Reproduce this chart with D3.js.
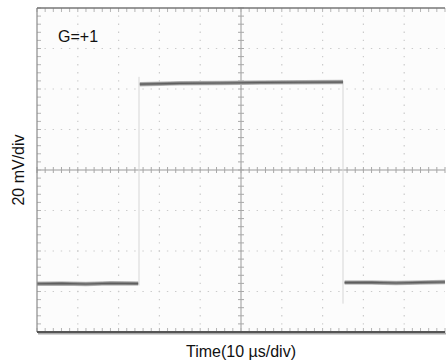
<!DOCTYPE html>
<html>
<head>
<meta charset="utf-8">
<script src="https://cdn.jsdelivr.net/npm/d3@7"></script>
<style>
body { margin: 0; background: #fff; }
text { font-family: "Liberation Sans", Arial, sans-serif; fill: #111; }
</style>
</head>
<body>
<div id="scope"></div>
<script>
// scope screen: 10 div x 8 div, 10 us/div, 20 mV/div
var svgWidth = 446;
var svgHeight = 363;

var margin = { top: 8, right: 1, bottom: 31, left: 37 };
var width = svgWidth - margin.left - margin.right;
var height = svgHeight - margin.top - margin.bottom;

// time axis in us, voltage in mV
var timeDomain = [0, 100];
var voltDomain = [-80, 80];
var timeDivs = d3.range(0, 101, 10);
var voltDivs = d3.range(-80, 81, 20);

// trace (segments: low, high, low)
var lowLeftT = [0, 6, 12, 18, 24.8];
var lowLeftV = [-56.2, -56.0, -56.3, -55.9, -56.1];
var highT = [25.2, 35, 45, 55, 65, 75];
var highV = [42.4, 42.8, 43.0, 43.2, 43.3, 43.4];
var lowRightT = [75.4, 82, 88, 94, 100];
var lowRightV = [-55.6, -55.5, -55.8, -55.5, -55.3];

// faint edge lines
var edgeT = [25, 75];
var edgeFrom = [-57, 44];
var edgeTo = [46, -66];

var gainLabel = "G=+1";
var xLabel = "Time(10 µs/div)";
var yLabel = "20 mV/div";

var svg = d3.select("#scope")
  .append("svg")
  .attr("width", svgWidth)
  .attr("height", svgHeight);

var chartGroup = svg.append("g")
  .attr("transform", `translate(${margin.left}, ${margin.top})`);

var x = d3.scaleLinear().domain(timeDomain).range([0, width]);
var y = d3.scaleLinear().domain(voltDomain).range([height, 0]);

chartGroup.append("rect")
  .attr("width", width)
  .attr("height", height)
  .attr("fill", "#fcfcfc");

// minor positions (1/5 div)
var minorT = d3.range(0, 100.01, 2);
var minorV = d3.range(-80, 80.01, 4);

// dotted grid lines
var dotX = (x(2) - x(0));
var dotY = (y(-4) - y(0));
chartGroup.selectAll(".vgrid")
  .data(timeDivs.filter(d => d !== 50 && d !== 0 && d !== 100))
  .enter().append("line")
  .attr("x1", d => x(d)).attr("x2", d => x(d))
  .attr("y1", 0).attr("y2", height)
  .attr("stroke", "#cbcbcb")
  .attr("stroke-width", 1.2)
  .attr("stroke-dasharray", `1.4,${dotY - 1.4}`)
  .attr("stroke-dashoffset", 0.7);

chartGroup.selectAll(".hgrid")
  .data(voltDivs.filter(d => d !== 0 && d !== -80 && d !== 80))
  .enter().append("line")
  .attr("y1", d => y(d)).attr("y2", d => y(d))
  .attr("x1", 0).attr("x2", width)
  .attr("stroke", "#cbcbcb")
  .attr("stroke-width", 1.2)
  .attr("stroke-dasharray", `1.4,${dotX - 1.4}`)
  .attr("stroke-dashoffset", 0.7);

// centre crosshair
chartGroup.append("line")
  .attr("x1", 0).attr("x2", width)
  .attr("y1", y(0)).attr("y2", y(0))
  .attr("stroke", "#9a9a9a").attr("stroke-width", 1);
chartGroup.append("line")
  .attr("x1", x(50)).attr("x2", x(50))
  .attr("y1", 0).attr("y2", height)
  .attr("stroke", "#9a9a9a").attr("stroke-width", 1);

chartGroup.selectAll(".hticks")
  .data(minorT)
  .enter().append("line")
  .attr("x1", d => x(d)).attr("x2", d => x(d))
  .attr("y1", y(0) - 3).attr("y2", y(0) + 3)
  .attr("stroke", "#a8a8a8");
chartGroup.selectAll(".vticks")
  .data(minorV)
  .enter().append("line")
  .attr("y1", d => y(d)).attr("y2", d => y(d))
  .attr("x1", x(50) - 3).attr("x2", x(50) + 3)
  .attr("stroke", "#a8a8a8");

// border ticks
chartGroup.selectAll(".topticks")
  .data(minorT)
  .enter().append("line")
  .attr("x1", d => x(d)).attr("x2", d => x(d))
  .attr("y1", 0).attr("y2", 4)
  .attr("stroke", "#b5b5b5");
chartGroup.selectAll(".botticks")
  .data(minorT)
  .enter().append("line")
  .attr("x1", d => x(d)).attr("x2", d => x(d))
  .attr("y1", height - 4).attr("y2", height)
  .attr("stroke", "#b5b5b5");
chartGroup.selectAll(".leftticks")
  .data(minorV)
  .enter().append("line")
  .attr("y1", d => y(d)).attr("y2", d => y(d))
  .attr("x1", 0).attr("x2", 4)
  .attr("stroke", "#b5b5b5");

// edge lines
chartGroup.selectAll(".edge")
  .data(edgeT)
  .enter().append("line")
  .attr("x1", d => x(d)).attr("x2", d => x(d))
  .attr("y1", (d, i) => y(edgeFrom[i]))
  .attr("y2", (d, i) => y(edgeTo[i]))
  .attr("stroke", "#d6d6d6")
  .attr("stroke-width", 1);

// trace
var segments = [
  d3.zip(lowLeftT, lowLeftV),
  d3.zip(highT, highV),
  d3.zip(lowRightT, lowRightV)
];
var line = d3.line().x(d => x(d[0])).y(d => y(d[1]));

[["#bdbdbd", 4.5], ["#868686", 3], ["#5e5e5e", 1.1]].forEach(function(s) {
  chartGroup.selectAll(null)
    .data(segments)
    .enter().append("path")
    .attr("d", line)
    .attr("fill", "none")
    .attr("stroke", s[0])
    .attr("stroke-width", s[1]);
});

// frame
chartGroup.append("line")
  .attr("x1", 0).attr("x2", 0).attr("y1", 0).attr("y2", height)
  .attr("stroke", "#8a8a8a").attr("stroke-width", 1.2);
chartGroup.append("line")
  .attr("x1", 0).attr("x2", width).attr("y1", 0).attr("y2", 0)
  .attr("stroke", "#777").attr("stroke-width", 1.5);
chartGroup.append("line")
  .attr("x1", 1).attr("x2", width + 1).attr("y1", height + 1.5).attr("y2", height + 1.5)
  .attr("stroke", "#aaa").attr("stroke-width", 2);
chartGroup.append("line")
  .attr("x1", 0).attr("x2", width).attr("y1", height).attr("y2", height)
  .attr("stroke", "#555").attr("stroke-width", 1.8);

// labels
chartGroup.append("text")
  .attr("x", 21)
  .attr("y", 34)
  .attr("font-size", 16)
  .text(gainLabel);

svg.append("text")
  .attr("x", margin.left + width / 2)
  .attr("y", 357)
  .attr("text-anchor", "middle")
  .attr("font-size", 16)
  .text(xLabel);

svg.append("text")
  .attr("transform", `translate(24, ${margin.top + height / 2}) rotate(-90)`)
  .attr("text-anchor", "middle")
  .attr("font-size", 16)
  .text(yLabel);
</script>
</body>
</html>
